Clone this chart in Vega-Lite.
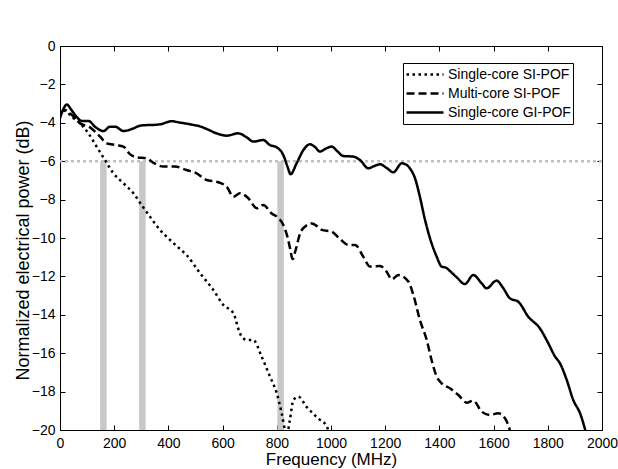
{
  "$schema": "https://vega.github.io/schema/vega-lite/v6.json",
  "width": 542,
  "height": 384,
  "autosize": "none",
  "padding": {"left": 60, "top": 46, "right": 16, "bottom": 39},
  "background": "white",
  "config": {
    "font": "Liberation Sans",
    "view": {"stroke": "black", "strokeWidth": 1},
    "axis": {
      "grid": false,
      "domainColor": "black",
      "tickColor": "black",
      "labelColor": "black",
      "titleColor": "black",
      "labelFont": "Liberation Sans",
      "titleFont": "Liberation Sans",
      "labelFontSize": 14,
      "titleFontWeight": "normal",
      "tickSize": -5,
      "tickWidth": 1,
      "labelOverlap": false,
      "format": "d"
    }
  },
  "datasets": {
    "curves": [
      {"f": 0, "p": -3.65, "s": "Single-core SI-POF"},
      {"f": 18, "p": -3.37, "s": "Single-core SI-POF"},
      {"f": 43, "p": -3.68, "s": "Single-core SI-POF"},
      {"f": 74, "p": -4.03, "s": "Single-core SI-POF"},
      {"f": 105, "p": -4.55, "s": "Single-core SI-POF"},
      {"f": 135, "p": -5.24, "s": "Single-core SI-POF"},
      {"f": 166, "p": -5.94, "s": "Single-core SI-POF"},
      {"f": 197, "p": -6.63, "s": "Single-core SI-POF"},
      {"f": 234, "p": -7.15, "s": "Single-core SI-POF"},
      {"f": 271, "p": -7.67, "s": "Single-core SI-POF"},
      {"f": 301, "p": -8.28, "s": "Single-core SI-POF"},
      {"f": 332, "p": -8.89, "s": "Single-core SI-POF"},
      {"f": 369, "p": -9.58, "s": "Single-core SI-POF"},
      {"f": 406, "p": -10.1, "s": "Single-core SI-POF"},
      {"f": 437, "p": -10.5, "s": "Single-core SI-POF"},
      {"f": 467, "p": -10.89, "s": "Single-core SI-POF"},
      {"f": 517, "p": -11.84, "s": "Single-core SI-POF"},
      {"f": 566, "p": -12.71, "s": "Single-core SI-POF"},
      {"f": 603, "p": -13.49, "s": "Single-core SI-POF"},
      {"f": 640, "p": -13.92, "s": "Single-core SI-POF"},
      {"f": 664, "p": -14.97, "s": "Single-core SI-POF"},
      {"f": 689, "p": -15.31, "s": "Single-core SI-POF"},
      {"f": 713, "p": -15.31, "s": "Single-core SI-POF"},
      {"f": 744, "p": -16.18, "s": "Single-core SI-POF"},
      {"f": 775, "p": -17.22, "s": "Single-core SI-POF"},
      {"f": 800, "p": -18.09, "s": "Single-core SI-POF"},
      {"f": 818, "p": -19.13, "s": "Single-core SI-POF"},
      {"f": 830, "p": -20.0, "s": "Single-core SI-POF"},
      {"f": 836, "p": -20.3, "s": "Single-core SI-POF"},
      {"f": 848, "p": -19.5, "s": "Single-core SI-POF"},
      {"f": 861, "p": -18.44, "s": "Single-core SI-POF"},
      {"f": 879, "p": -18.26, "s": "Single-core SI-POF"},
      {"f": 910, "p": -18.8, "s": "Single-core SI-POF"},
      {"f": 953, "p": -19.4, "s": "Single-core SI-POF"},
      {"f": 984, "p": -19.8, "s": "Single-core SI-POF"},
      {"f": 992, "p": -20.1, "s": "Single-core SI-POF"},

      {"f": 0, "p": -3.5, "s": "Multi-core SI-POF"},
      {"f": 18, "p": -3.33, "s": "Multi-core SI-POF"},
      {"f": 37, "p": -3.5, "s": "Multi-core SI-POF"},
      {"f": 74, "p": -4.03, "s": "Multi-core SI-POF"},
      {"f": 111, "p": -4.24, "s": "Multi-core SI-POF"},
      {"f": 148, "p": -4.72, "s": "Multi-core SI-POF"},
      {"f": 172, "p": -5.07, "s": "Multi-core SI-POF"},
      {"f": 209, "p": -5.16, "s": "Multi-core SI-POF"},
      {"f": 234, "p": -5.24, "s": "Multi-core SI-POF"},
      {"f": 258, "p": -5.63, "s": "Multi-core SI-POF"},
      {"f": 283, "p": -5.8, "s": "Multi-core SI-POF"},
      {"f": 320, "p": -5.85, "s": "Multi-core SI-POF"},
      {"f": 344, "p": -6.08, "s": "Multi-core SI-POF"},
      {"f": 381, "p": -6.28, "s": "Multi-core SI-POF"},
      {"f": 424, "p": -6.28, "s": "Multi-core SI-POF"},
      {"f": 467, "p": -6.46, "s": "Multi-core SI-POF"},
      {"f": 504, "p": -6.63, "s": "Multi-core SI-POF"},
      {"f": 541, "p": -6.98, "s": "Multi-core SI-POF"},
      {"f": 578, "p": -7.07, "s": "Multi-core SI-POF"},
      {"f": 615, "p": -7.33, "s": "Multi-core SI-POF"},
      {"f": 640, "p": -7.85, "s": "Multi-core SI-POF"},
      {"f": 664, "p": -7.67, "s": "Multi-core SI-POF"},
      {"f": 695, "p": -7.93, "s": "Multi-core SI-POF"},
      {"f": 726, "p": -8.45, "s": "Multi-core SI-POF"},
      {"f": 750, "p": -8.28, "s": "Multi-core SI-POF"},
      {"f": 781, "p": -8.72, "s": "Multi-core SI-POF"},
      {"f": 800, "p": -8.89, "s": "Multi-core SI-POF"},
      {"f": 824, "p": -9.32, "s": "Multi-core SI-POF"},
      {"f": 839, "p": -9.93, "s": "Multi-core SI-POF"},
      {"f": 849, "p": -10.54, "s": "Multi-core SI-POF"},
      {"f": 858, "p": -11.1, "s": "Multi-core SI-POF"},
      {"f": 870, "p": -10.6, "s": "Multi-core SI-POF"},
      {"f": 886, "p": -9.76, "s": "Multi-core SI-POF"},
      {"f": 905, "p": -9.4, "s": "Multi-core SI-POF"},
      {"f": 929, "p": -9.24, "s": "Multi-core SI-POF"},
      {"f": 950, "p": -9.4, "s": "Multi-core SI-POF"},
      {"f": 966, "p": -9.58, "s": "Multi-core SI-POF"},
      {"f": 1002, "p": -9.67, "s": "Multi-core SI-POF"},
      {"f": 1033, "p": -10.05, "s": "Multi-core SI-POF"},
      {"f": 1064, "p": -10.36, "s": "Multi-core SI-POF"},
      {"f": 1089, "p": -10.36, "s": "Multi-core SI-POF"},
      {"f": 1119, "p": -10.97, "s": "Multi-core SI-POF"},
      {"f": 1144, "p": -11.49, "s": "Multi-core SI-POF"},
      {"f": 1181, "p": -11.46, "s": "Multi-core SI-POF"},
      {"f": 1205, "p": -11.75, "s": "Multi-core SI-POF"},
      {"f": 1224, "p": -12.15, "s": "Multi-core SI-POF"},
      {"f": 1249, "p": -11.93, "s": "Multi-core SI-POF"},
      {"f": 1286, "p": -12.28, "s": "Multi-core SI-POF"},
      {"f": 1304, "p": -12.97, "s": "Multi-core SI-POF"},
      {"f": 1328, "p": -14.27, "s": "Multi-core SI-POF"},
      {"f": 1353, "p": -15.3, "s": "Multi-core SI-POF"},
      {"f": 1371, "p": -16.35, "s": "Multi-core SI-POF"},
      {"f": 1390, "p": -17.22, "s": "Multi-core SI-POF"},
      {"f": 1408, "p": -17.57, "s": "Multi-core SI-POF"},
      {"f": 1439, "p": -17.83, "s": "Multi-core SI-POF"},
      {"f": 1470, "p": -18.18, "s": "Multi-core SI-POF"},
      {"f": 1501, "p": -18.58, "s": "Multi-core SI-POF"},
      {"f": 1525, "p": -18.47, "s": "Multi-core SI-POF"},
      {"f": 1556, "p": -19.04, "s": "Multi-core SI-POF"},
      {"f": 1586, "p": -19.22, "s": "Multi-core SI-POF"},
      {"f": 1617, "p": -19.13, "s": "Multi-core SI-POF"},
      {"f": 1642, "p": -19.39, "s": "Multi-core SI-POF"},
      {"f": 1660, "p": -20.0, "s": "Multi-core SI-POF"},
      {"f": 1668, "p": -20.4, "s": "Multi-core SI-POF"},

      {"f": 0, "p": -3.75, "s": "Single-core GI-POF"},
      {"f": 12, "p": -3.3, "s": "Single-core GI-POF"},
      {"f": 25, "p": -3.05, "s": "Single-core GI-POF"},
      {"f": 43, "p": -3.35, "s": "Single-core GI-POF"},
      {"f": 62, "p": -3.7, "s": "Single-core GI-POF"},
      {"f": 80, "p": -3.9, "s": "Single-core GI-POF"},
      {"f": 105, "p": -3.9, "s": "Single-core GI-POF"},
      {"f": 129, "p": -4.2, "s": "Single-core GI-POF"},
      {"f": 160, "p": -4.43, "s": "Single-core GI-POF"},
      {"f": 185, "p": -4.2, "s": "Single-core GI-POF"},
      {"f": 203, "p": -4.2, "s": "Single-core GI-POF"},
      {"f": 234, "p": -4.43, "s": "Single-core GI-POF"},
      {"f": 271, "p": -4.29, "s": "Single-core GI-POF"},
      {"f": 295, "p": -4.15, "s": "Single-core GI-POF"},
      {"f": 320, "p": -4.12, "s": "Single-core GI-POF"},
      {"f": 344, "p": -4.11, "s": "Single-core GI-POF"},
      {"f": 369, "p": -4.08, "s": "Single-core GI-POF"},
      {"f": 412, "p": -3.92, "s": "Single-core GI-POF"},
      {"f": 443, "p": -3.99, "s": "Single-core GI-POF"},
      {"f": 470, "p": -4.05, "s": "Single-core GI-POF"},
      {"f": 492, "p": -4.11, "s": "Single-core GI-POF"},
      {"f": 520, "p": -4.2, "s": "Single-core GI-POF"},
      {"f": 541, "p": -4.32, "s": "Single-core GI-POF"},
      {"f": 578, "p": -4.55, "s": "Single-core GI-POF"},
      {"f": 615, "p": -4.67, "s": "Single-core GI-POF"},
      {"f": 658, "p": -4.55, "s": "Single-core GI-POF"},
      {"f": 689, "p": -4.76, "s": "Single-core GI-POF"},
      {"f": 713, "p": -4.98, "s": "Single-core GI-POF"},
      {"f": 750, "p": -4.9, "s": "Single-core GI-POF"},
      {"f": 775, "p": -5.16, "s": "Single-core GI-POF"},
      {"f": 800, "p": -5.28, "s": "Single-core GI-POF"},
      {"f": 824, "p": -5.68, "s": "Single-core GI-POF"},
      {"f": 840, "p": -6.3, "s": "Single-core GI-POF"},
      {"f": 851, "p": -6.68, "s": "Single-core GI-POF"},
      {"f": 873, "p": -6.11, "s": "Single-core GI-POF"},
      {"f": 898, "p": -5.42, "s": "Single-core GI-POF"},
      {"f": 922, "p": -5.12, "s": "Single-core GI-POF"},
      {"f": 940, "p": -5.25, "s": "Single-core GI-POF"},
      {"f": 959, "p": -5.5, "s": "Single-core GI-POF"},
      {"f": 980, "p": -5.35, "s": "Single-core GI-POF"},
      {"f": 1002, "p": -5.24, "s": "Single-core GI-POF"},
      {"f": 1025, "p": -5.5, "s": "Single-core GI-POF"},
      {"f": 1045, "p": -5.73, "s": "Single-core GI-POF"},
      {"f": 1082, "p": -5.76, "s": "Single-core GI-POF"},
      {"f": 1107, "p": -5.94, "s": "Single-core GI-POF"},
      {"f": 1138, "p": -6.37, "s": "Single-core GI-POF"},
      {"f": 1160, "p": -6.25, "s": "Single-core GI-POF"},
      {"f": 1181, "p": -6.16, "s": "Single-core GI-POF"},
      {"f": 1205, "p": -6.35, "s": "Single-core GI-POF"},
      {"f": 1230, "p": -6.58, "s": "Single-core GI-POF"},
      {"f": 1261, "p": -6.11, "s": "Single-core GI-POF"},
      {"f": 1280, "p": -6.2, "s": "Single-core GI-POF"},
      {"f": 1291, "p": -6.37, "s": "Single-core GI-POF"},
      {"f": 1310, "p": -6.89, "s": "Single-core GI-POF"},
      {"f": 1328, "p": -7.85, "s": "Single-core GI-POF"},
      {"f": 1347, "p": -9.06, "s": "Single-core GI-POF"},
      {"f": 1365, "p": -10.0, "s": "Single-core GI-POF"},
      {"f": 1390, "p": -10.97, "s": "Single-core GI-POF"},
      {"f": 1408, "p": -11.49, "s": "Single-core GI-POF"},
      {"f": 1425, "p": -11.55, "s": "Single-core GI-POF"},
      {"f": 1439, "p": -11.72, "s": "Single-core GI-POF"},
      {"f": 1464, "p": -12.05, "s": "Single-core GI-POF"},
      {"f": 1494, "p": -12.4, "s": "Single-core GI-POF"},
      {"f": 1525, "p": -11.93, "s": "Single-core GI-POF"},
      {"f": 1556, "p": -12.36, "s": "Single-core GI-POF"},
      {"f": 1574, "p": -12.62, "s": "Single-core GI-POF"},
      {"f": 1611, "p": -12.22, "s": "Single-core GI-POF"},
      {"f": 1636, "p": -12.62, "s": "Single-core GI-POF"},
      {"f": 1660, "p": -13.14, "s": "Single-core GI-POF"},
      {"f": 1691, "p": -13.32, "s": "Single-core GI-POF"},
      {"f": 1728, "p": -14.1, "s": "Single-core GI-POF"},
      {"f": 1771, "p": -14.71, "s": "Single-core GI-POF"},
      {"f": 1802, "p": -15.49, "s": "Single-core GI-POF"},
      {"f": 1827, "p": -16.18, "s": "Single-core GI-POF"},
      {"f": 1845, "p": -16.53, "s": "Single-core GI-POF"},
      {"f": 1870, "p": -17.4, "s": "Single-core GI-POF"},
      {"f": 1894, "p": -18.44, "s": "Single-core GI-POF"},
      {"f": 1919, "p": -19.13, "s": "Single-core GI-POF"},
      {"f": 1938, "p": -20.0, "s": "Single-core GI-POF"},
      {"f": 1945, "p": -20.4, "s": "Single-core GI-POF"}
    ],
    "bars": [
      {"f1": 148, "f2": 172, "p1": -20, "p2": -6},
      {"f1": 292, "f2": 316, "p1": -20, "p2": -6},
      {"f1": 802, "f2": 826, "p1": -20, "p2": -6}
    ],
    "level": [{"p": -6}]
  },
  "layer": [
    {
      "layer": [
        {
          "data": {"name": "bars"},
          "mark": {"type": "rect", "color": "#c8c8c8"},
          "encoding": {
            "x": {
              "field": "f1", "type": "quantitative",
              "scale": {"domain": [0, 2000], "nice": false, "zero": false},
              "axis": {
                "orient": "bottom",
                "values": [0, 200, 400, 600, 800, 1000, 1200, 1400, 1600, 1800, 2000],
                "title": "Frequency (MHz)",
                "titleFontSize": 17,
                "titleBaseline": "alphabetic",
                "titleY": 34,
                "labelPadding": 11,
                "labelFlush": false
              }
            },
            "x2": {"field": "f2"},
            "y": {
              "field": "p1", "type": "quantitative",
              "scale": {"domain": [-20, 0], "nice": false, "zero": false},
              "axis": {
                "orient": "left",
                "values": [-20, -18, -16, -14, -12, -10, -8, -6, -4, -2, 0],
                "tickCount": 11,
                "labelOverlap": false,
                "title": "Normalized electrical power (dB)",
                "titleFontSize": 18,
                "titleBaseline": "middle",
                "titleX": -37,
                "titleY": 204,
                "labelPadding": 10,
                "labelFlush": false
              }
            },
            "y2": {"field": "p2"}
          }
        },
        {
          "data": {"name": "level"},
          "mark": {"type": "rule", "color": "#c0c0c0", "strokeWidth": 2.5, "strokeDash": [3, 3]},
          "encoding": {"y": {"field": "p", "type": "quantitative", "axis": {"values": [-20, -18, -16, -14, -12, -10, -8, -6, -4, -2, 0], "tickCount": 11}}}
        },
        {
          "data": {"name": "curves"},
          "mark": {"type": "line", "color": "black", "strokeWidth": 2.5, "clip": true, "interpolate": "monotone"},
          "encoding": {
            "x": {"field": "f", "type": "quantitative"},
            "y": {"field": "p", "type": "quantitative", "axis": {"values": [-20, -18, -16, -14, -12, -10, -8, -6, -4, -2, 0], "tickCount": 11}},
            "strokeDash": {
              "field": "s", "type": "nominal",
              "scale": {
                "domain": ["Single-core SI-POF", "Multi-core SI-POF", "Single-core GI-POF"],
                "range": [[2.5, 3.5], [8, 4], [1, 0]]
              },
              "legend": {
                "title": null,
                "orient": "none",
                "legendX": 343,
                "legendY": 17,
                "symbolType": "stroke",
                "symbolSize": 1369,
                "symbolStrokeWidth": 2.5,
                "symbolStrokeColor": "black",
                "clipHeight": 19,
                "rowPadding": 0,
                "labelOffset": 3,
                "labelFontSize": 14,
                "labelFont": "Liberation Sans",
                "labelColor": "black",
                "padding": 2,
                "strokeColor": "black",
                "fillColor": "white"
              }
            }
          }
        }
      ]
    },
    {
      "data": {"values": [{"f": 0, "p": 0}]},
      "mark": {"type": "point", "opacity": 0},
      "encoding": {
        "x": {
          "field": "f", "type": "quantitative",
          "axis": {"orient": "top", "values": [0, 200, 400, 600, 800, 1000, 1200, 1400, 1600, 1800, 2000], "labels": false, "title": null, "domain": false}
        },
        "y": {
          "field": "p", "type": "quantitative",
          "axis": {"orient": "right", "values": [-20, -18, -16, -14, -12, -10, -8, -6, -4, -2, 0], "tickCount": 11, "labels": false, "title": null, "domain": false}
        }
      }
    }
  ],
  "resolve": {"axis": {"x": "independent", "y": "independent"}}
}
